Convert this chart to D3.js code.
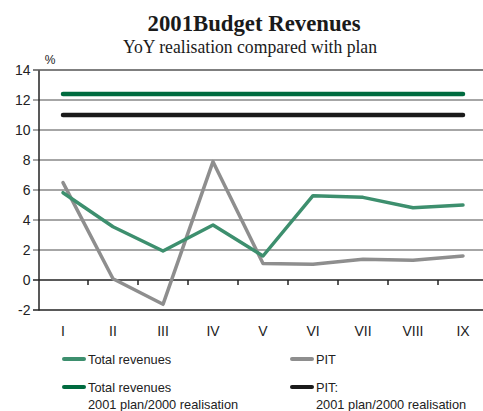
<!DOCTYPE html>
<html><head><meta charset="utf-8">
<script src="https://cdn.jsdelivr.net/npm/d3@7"></script>
<style>body{margin:0;background:#fff}svg{display:block}</style>
</head><body>
<script>
const categories = ["I","II","III","IV","V","VI","VII","VIII","IX"];
const totalRevenues = [5.82, 3.55, 1.93, 3.67, 1.6, 5.62, 5.51, 4.82, 5.0];
const pit = [6.49, 0.08, -1.62, 7.89, 1.1, 1.05, 1.38, 1.31, 1.6];
const totalPlan = [12.4, 12.4, 12.4, 12.4, 12.4, 12.4, 12.4, 12.4, 12.4];
const pitPlan = [11.0, 11.0, 11.0, 11.0, 11.0, 11.0, 11.0, 11.0, 11.0];
const yTicks = [-2, 0, 2, 4, 6, 8, 10, 12, 14];

const W = 483, H = 411;
const svg = d3.select("body").append("svg").attr("width", W).attr("height", H);
const x = d3.scaleBand().domain(categories).range([38, 488]);
const y = d3.scaleLinear().domain([-2, 14]).range([310, 70]);
const cx = d => x(d) + x.bandwidth() / 2;

// titles
svg.append("text").attr("x", 254).attr("y", 31).attr("text-anchor", "middle")
  .attr("font-family", "Liberation Serif, serif").attr("font-weight", "bold").attr("font-size", 23)
  .attr("textLength", 213).attr("lengthAdjust", "spacingAndGlyphs")
  .attr("fill", "#1a1a1a").text("2001Budget Revenues");
svg.append("text").attr("x", 250).attr("y", 53).attr("text-anchor", "middle")
  .attr("font-family", "Liberation Serif, serif").attr("font-size", 19)
  .attr("textLength", 254).attr("lengthAdjust", "spacingAndGlyphs")
  .attr("fill", "#1a1a1a").text("YoY realisation compared with plan");
svg.append("text").attr("x", 50).attr("y", 64).attr("text-anchor", "middle")
  .attr("font-family", "Liberation Sans, Arial, sans-serif").attr("font-size", 12)
  .attr("fill", "#222").text("%");

// gridlines
svg.append("g").selectAll("line").data(yTicks).join("line")
  .attr("x1", 33).attr("x2", W).attr("y1", d => y(d)).attr("y2", d => y(d))
  .attr("stroke", d => (d === 0 || d === -2) ? "#222" : (d === 14 ? "#555" : "#888"))
  .attr("stroke-width", 1.5);

// y axis
const yAxis = d3.axisLeft(y).tickValues(yTicks).tickSize(0).tickPadding(8)
  .tickFormat(d => String(d));
const gy = svg.append("g").attr("transform", "translate(38.5,0)").call(yAxis);
gy.select(".domain").attr("stroke", "#222").attr("stroke-width", 1.5);
gy.selectAll("text").attr("font-family", "Liberation Sans, Arial, sans-serif")
  .attr("font-size", 14).attr("fill", "#222");

// x axis at zero with ticks at band boundaries
const gx = svg.append("g").attr("transform", `translate(0,${y(0)})`);
gx.selectAll("line").data(categories.slice(1)).join("line")
  .attr("x1", d => x(d)).attr("x2", d => x(d)).attr("y1", 0).attr("y2", 5)
  .attr("stroke", "#222").attr("stroke-width", 1.5);
svg.append("g").selectAll("text").data(categories).join("text")
  .attr("x", d => cx(d)).attr("y", 336).attr("text-anchor", "middle")
  .attr("font-family", "Liberation Sans, Arial, sans-serif").attr("font-size", 14)
  .attr("fill", "#222").text(d => d);

const line = d3.line().x((d, i) => cx(categories[i])).y(d => y(d));
const series = [
  {v: totalPlan, c: "#006b3f", w: 4.5},
  {v: pitPlan, c: "#1a1a1a", w: 4.5},
  {v: pit, c: "#8e8e8e", w: 3.5},
  {v: totalRevenues, c: "#3d8f6e", w: 3.5}
];
svg.append("g").selectAll("path").data(series).join("path")
  .attr("d", d => line(d.v)).attr("fill", "none")
  .attr("stroke", d => d.c).attr("stroke-width", d => d.w)
  .attr("stroke-linejoin", "round").attr("stroke-linecap", "round");

// legend
const legend = [
  {x: 64, y: 359, c: "#3d8f6e", lines: ["Total revenues"]},
  {x: 292, y: 359, c: "#8e8e8e", lines: ["PIT"]},
  {x: 64, y: 387, c: "#006b3f", lines: ["Total revenues", "2001 plan/2000 realisation"]},
  {x: 292, y: 387, c: "#1a1a1a", lines: ["PIT:", "2001 plan/2000 realisation"]}
];
const lg = svg.append("g").selectAll("g").data(legend).join("g");
lg.append("line").attr("x1", d => d.x).attr("x2", d => d.x + 20)
  .attr("y1", d => d.y).attr("y2", d => d.y)
  .attr("stroke", d => d.c).attr("stroke-width", 4).attr("stroke-linecap", "round");
lg.each(function(d) {
  const g = d3.select(this);
  d.lines.forEach((t, i) => {
    g.append("text").attr("x", d.x + 24).attr("y", d.y + 5 + i * 17)
      .attr("font-family", "Liberation Sans, Arial, sans-serif").attr("font-size", 12.8)
      .attr("fill", "#222").text(t);
  });
});
</script>
</body></html>
